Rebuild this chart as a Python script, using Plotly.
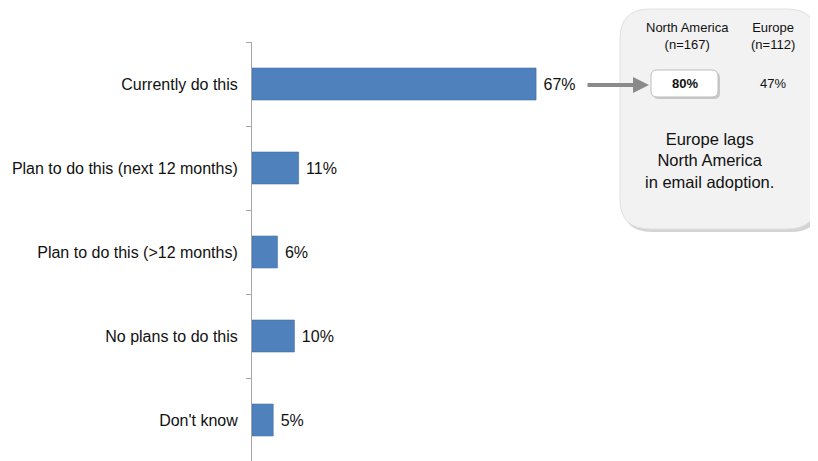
import plotly.graph_objects as go

categories = ["Currently do this", "Plan to do this (next 12 months)", "Plan to do this (>12 months)",
              "No plans to do this", "Don't know"]
values = [67, 11, 6, 10, 5]
regions = ["North America<br>(n=167)", "Europe<br>(n=112)"]
region_values = ["80%", "47%"]
callout_text = "Europe lags<br>North America<br>in email adoption."

W, H = 818, 461
OFF = 8  # default page body margin in the browser
L, T = 252 - OFF, 42 - OFF
R, B = 0, H - (462 - OFF)
PW, PH = W - L - R, H - T - B

def px(x):
    return (x - OFF - L) / PW

def py(y):
    return (H - B - (y - OFF)) / PH

def rounded_path(x0, y0, x1, y1, r):
    pts = [
        f"M {px(x0 + r)},{py(y0)}",
        f"L {px(x1 - r)},{py(y0)}",
        f"Q {px(x1)},{py(y0)} {px(x1)},{py(y0 + r)}",
        f"L {px(x1)},{py(y1 - r)}",
        f"Q {px(x1)},{py(y1)} {px(x1 - r)},{py(y1)}",
        f"L {px(x0 + r)},{py(y1)}",
        f"Q {px(x0)},{py(y1)} {px(x0)},{py(y1 - r)}",
        f"L {px(x0)},{py(y0 + r)}",
        f"Q {px(x0)},{py(y0)} {px(x0 + r)},{py(y0)}",
        "Z",
    ]
    return " ".join(pts)

fig = go.Figure(go.Bar(
    x=values, y=categories, orientation="h",
    marker=dict(color="#4F81BD", line=dict(color="#3f6da6", width=0.6)),
    width=0.38,
    text=[f"\u00a0{v}%" for v in values], textposition="outside",
    textfont=dict(size=16, color="#111"),
    cliponaxis=False,
))

shapes = [
    dict(type="path", xref="paper", yref="paper", path=rounded_path(622, 12, 821, 232, 30),
         fillcolor="#d4d4d4", line=dict(width=0), layer="below"),
    dict(type="path", xref="paper", yref="paper", path=rounded_path(620, 9, 817, 229, 30),
         fillcolor="#f2f2f2", line=dict(color="#e0e0e0", width=1), layer="below"),
    dict(type="path", xref="paper", yref="paper", path=rounded_path(653, 72, 720, 99, 6),
         fillcolor="#c8c8c8", line=dict(width=0), layer="below"),
    dict(type="path", xref="paper", yref="paper", path=rounded_path(651, 70, 718, 97, 6),
         fillcolor="#ffffff", line=dict(color="#bdbdbd", width=1), layer="below"),
]

def ann(x, y, text, size, **kw):
    d = dict(xref="paper", yref="paper", x=px(x), y=py(y), text=text, showarrow=False,
             xanchor="center", yanchor="middle", align="center",
             font=dict(size=size, color="#111"))
    d.update(kw)
    return d

annotations = [
    ann(687, 36, regions[0], 13),
    ann(773, 36, regions[1], 13),
    ann(685, 83, "<b>" + region_values[0] + "</b>", 13),
    ann(773, 83, region_values[1], 13),
    ann(709, 160, callout_text, 16.5),
    dict(xref="paper", yref="paper", x=px(649), y=py(85), text="", showarrow=True,
         ax=-63, ay=0, arrowhead=2, arrowsize=0.8, arrowwidth=4, arrowcolor="#8a8a8a"),
]

fig.update_layout(
    width=W, height=H,
    margin=dict(l=L, r=R, t=T, b=B, autoexpand=False),
    paper_bgcolor="white", plot_bgcolor="white",
    font=dict(family="Liberation Sans, Arial, sans-serif", size=16, color="#111"),
    showlegend=False,
    shapes=shapes,
    annotations=annotations,
    xaxis=dict(range=[0, PW / 4.24], visible=False, fixedrange=True, automargin=False),
    yaxis=dict(autorange="reversed", showline=True, linecolor="#a6a6a6", linewidth=1,
               ticks="outside", ticklen=5, tickcolor="#a6a6a6", tickson="boundaries",
               ticklabelstandoff=10, showgrid=False, automargin=False,
               tickfont=dict(size=16, color="#111")),
)

fig.write_html("out.html")
